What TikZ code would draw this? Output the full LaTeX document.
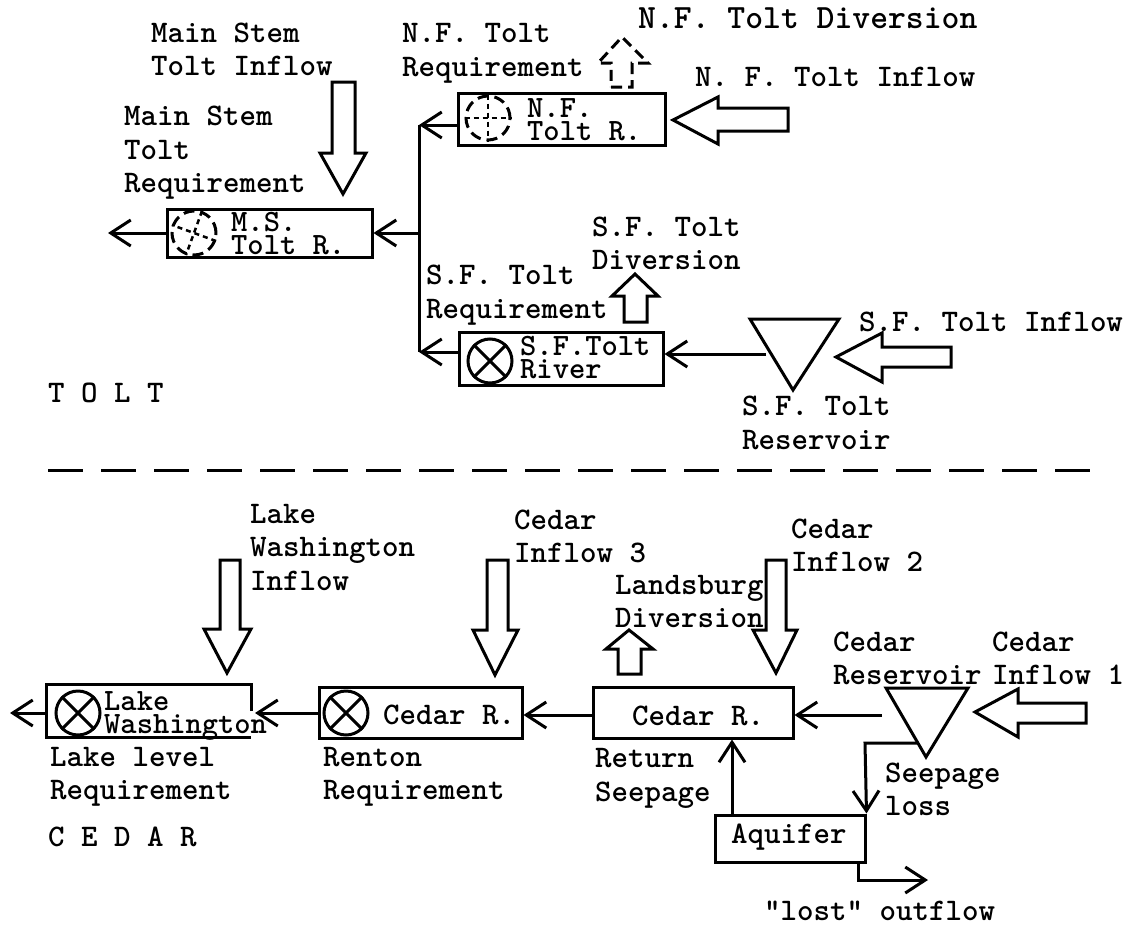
\documentclass[tikz,border=0pt]{standalone}
\usepackage{tikz}
\usetikzlibrary{arrows.meta}
\tikzset{
  >={Straight Barb[length=20pt,width=26pt]},
  lbl/.style={font=\fontsize{31.4}{33.5}\selectfont\ttfamily\bfseries, align=left, anchor=west, inner sep=0pt},
  lblwide/.style={lbl, font=\fontsize{34}{34}\selectfont\ttfamily\bfseries},
  intxt/.style={lbl, font=\fontsize{31}{23}\selectfont\ttfamily\bfseries},
  boxed/.style={draw, line width=3pt, inner sep=0pt, minimum width=#1},
  plainbox/.style={inner sep=0pt, minimum width=#1},
  gauge/.style={circle, draw, line width=3pt, inner sep=0pt, minimum size=44pt},
  wire/.style={line width=3pt},
  bigarrow/.style={line width=3pt, line join=miter},
  dashbit/.style={line width=3pt, dash pattern=on 11pt off 6pt},
  crossbit/.style={line width=2.5pt, dash pattern=on 5pt off 4pt}
}
\begin{document}
\begin{tikzpicture}[x=1pt,y=-1pt]
\useasboundingbox (0,0) rectangle (1135,926);

% tolt: boxes
\node[boxed=205pt, minimum height=48pt] (msbox) at (269.5,233) {};
\node[boxed=207pt, minimum height=52pt] (nfbox) at (561.5,119) {};
\node[boxed=204pt, minimum height=53pt] (sfbox) at (561,358.5) {};
\node[gauge, dashbit] (msgauge) at (194,233) {};
\node[gauge, dashbit] (nfgauge) at (488,118) {};
\node[gauge] (sfgauge) at (490,361) {};
\draw[crossbit] (msgauge.70) -- (msgauge.250);
\draw[crossbit] (msgauge.340) -- (msgauge.160);
\draw[crossbit] (nfgauge.north) -- (nfgauge.south);
\draw[crossbit] (nfgauge.west) -- (nfgauge.east);
\draw[wire] (sfgauge.45) -- (sfgauge.225);
\draw[wire] (sfgauge.135) -- (sfgauge.315);
\node[intxt] (mstxt) at (231,234) {M.S.\\Tolt R.};
\node[intxt] (nftxt) at (527,120) {N.F.\\Tolt R.};
\node[intxt] (sftxt) at (520,358) {S.F.Tolt\\River};

% tolt: reservoir
\coordinate (sfresl) at (750,319);
\coordinate (sfresr) at (839,319);
\coordinate (sfrest) at (793,390);
\coordinate (sfresout) at (766,354);
\draw[wire] (sfresl) -- (sfresr) -- (sfrest) -- cycle;

% tolt: connectors
\coordinate (msout) at (108,233);
\coordinate (joinb) at (419,352);
\coordinate (jointop) at (419,125);
\coordinate (joinm) at (419,233);
\draw[wire] (jointop) -- (joinb);
\draw[wire,->] (msbox.west) -- (msout);
\draw[wire,->] (joinm) -- (msbox.east);
\draw[wire,->] (nfbox.west |- jointop) -- (jointop);
\draw[wire,->] (sfbox.west |- joinb) -- (joinb);
\draw[wire,->] (sfresout) -- (sfbox.east |- sfresout);

% tolt: big arrows
\draw[bigarrow] (332,82) -- (355,82) -- (355,153) -- (366,153) -- (343,194) -- (320,153) -- (332,153) -- cycle;
\draw[bigarrow] (788,108) -- (718,108) -- (718,97) -- (673,120) -- (718,144) -- (718,131) -- (788,131) -- cycle;
\draw[bigarrow] (951,347) -- (882,347) -- (882,333) -- (836,357) -- (882,382) -- (882,367) -- (951,367) -- cycle;
\draw[bigarrow] (624,322) -- (647,322) -- (647,296) -- (658,296) -- (635,274) -- (612,296) -- (624,296) -- cycle;
\draw[dashbit] (611,87) -- (632,87) -- (632,63) -- (648,63) -- (622,37) -- (598,63) -- (611,63) -- cycle;

% tolt: labels
\node[lbl] (msinflow) at (151,49.5) {Main Stem\\Tolt Inflow};
\node[lbl] (msreq) at (124,153) {Main Stem\\Tolt\\Requirement};
\node[lbl] (nfreq) at (402,53.5) {N.F. Tolt\\Requirement};
\node[lblwide] (nfdiv) at (638,18) {N.F. Tolt Diversion};
\node[lbl] (nfinflow) at (695,77) {N. F. Tolt Inflow};
\node[lbl] (sfdiv) at (592,243.5) {S.F. Tolt\\Diversion};
\node[lbl] (sfreq) at (426,295) {S.F. Tolt\\Requirement};
\node[lbl] (sfinflow) at (859,322) {S.F. Tolt Inflow};
\node[lbl] (sfres) at (742,423) {S.F. Tolt\\Reservoir};
\node[lbl] (tolt) at (48,393) {T O L T};

% divider
\coordinate (divl) at (48,470);
\coordinate (divr) at (1090,470);
\draw[wire, dash pattern=on 35pt off 18pt] (divl) -- (divr);

% cedar: boxes
\node[plainbox=204pt, minimum height=52pt] (lakebox) at (149,711) {};
\node[boxed=203pt, minimum height=51pt] (rentbox) at (420.5,712.5) {};
\node[boxed=200pt, minimum height=51pt] (cedbox) at (693,712.5) {};
\node[boxed=150pt, minimum height=47pt] (aqbox) at (790,838.5) {};
\draw[wire] (lakebox.east) -- (lakebox.north east) -- (lakebox.north west) -- (lakebox.south west) -- (lakebox.south east);
\node[gauge] (lakegauge) at (78,713) {};
\node[gauge] (rentgauge) at (346,713) {};
\draw[wire] (lakegauge.45) -- (lakegauge.225);
\draw[wire] (lakegauge.135) -- (lakegauge.315);
\draw[wire] (rentgauge.45) -- (rentgauge.225);
\draw[wire] (rentgauge.135) -- (rentgauge.315);
\node[intxt] (laketxt) at (104,716) {Lake\\Washington};
\node[lbl] (renttxt) at (383,715) {Cedar R.};
\node[lbl] (cedtxt) at (632,716) {Cedar R.};
\node[lbl] (aqtxt) at (731,837) {Aquifer};

% cedar: reservoir
\coordinate (cedresl) at (886,688);
\coordinate (cedresr) at (968,688);
\coordinate (cedrest) at (926,757);
\coordinate (cedresout) at (882,715);
\coordinate (cedresleak) at (918,743);
\coordinate (leakdown) at (865,743);
\draw[wire] (cedresl) -- (cedresr) -- (cedrest) -- cycle;

% cedar: connectors
\coordinate (lakeout) at (10,713);
\coordinate (lakein) at (255,713);
\coordinate (aqup) at (732,815);
\coordinate (lostdown) at (858,862);
\coordinate (lostcorner) at (858,880);
\coordinate (lostend) at (928,880);
\draw[wire,->] (lakebox.west |- lakeout) -- (lakeout);
\draw[wire,->] (rentbox.west |- lakein) -- (lakein);
\draw[wire,->] (cedbox.west |- cedresout) -- (rentbox.east |- cedresout);
\draw[wire,->] (cedresout) -- (cedbox.east |- cedresout);
\draw[wire,->] (aqup) -- (cedbox.south -| aqup);
\draw[wire,->] (cedresleak) -- (leakdown) -- (aqbox.north east);
\draw[wire,->] (lostdown) -- (lostcorner) -- (lostend);

% cedar: big arrows
\draw[bigarrow] (220,560) -- (240,560) -- (240,629) -- (251,629) -- (227,673) -- (204,629) -- (220,629) -- cycle;
\draw[bigarrow] (487,560) -- (508,560) -- (508,630) -- (518,630) -- (495,675) -- (473,630) -- (487,630) -- cycle;
\draw[bigarrow] (766,560) -- (786,560) -- (786,630) -- (797,630) -- (776,673) -- (753,630) -- (766,630) -- cycle;
\draw[bigarrow] (618,674) -- (641,674) -- (641,649) -- (653,649) -- (629,630) -- (606,649) -- (618,649) -- cycle;
\draw[bigarrow] (1086,703) -- (1018,703) -- (1018,689) -- (975,712) -- (1018,737) -- (1018,723) -- (1086,723) -- cycle;

% cedar: labels
\node[lbl] (lakeinflow) at (250,547) {Lake\\Washington\\Inflow};
\node[lbl] (cedin3) at (514,536.5) {Cedar\\Inflow 3};
\node[lbl] (cedin2) at (791,545.5) {Cedar\\Inflow 2};
\node[lbl] (landsdiv) at (615,601.5) {Landsburg\\Diversion};
\node[lbl] (cedres) at (833,658.5) {Cedar\\Reservoir};
\node[lbl] (cedin1) at (992,658.5) {Cedar\\Inflow 1};
\node[lbl] (lakereq) at (50,777) {Lake level\\Requirement};
\node[lbl] (rentreq) at (323,777) {Renton\\Requirement};
\node[lbl] (retseep) at (595,778.5) {Return\\Seepage};
\node[lbl] (seeploss) at (885,789.5) {Seepage\\loss};
\node[lbl] (lost) at (764,911) {"lost" outflow};
\node[lbl] (cedar) at (48,837) {C E D A R};
\end{tikzpicture}
\end{document}
